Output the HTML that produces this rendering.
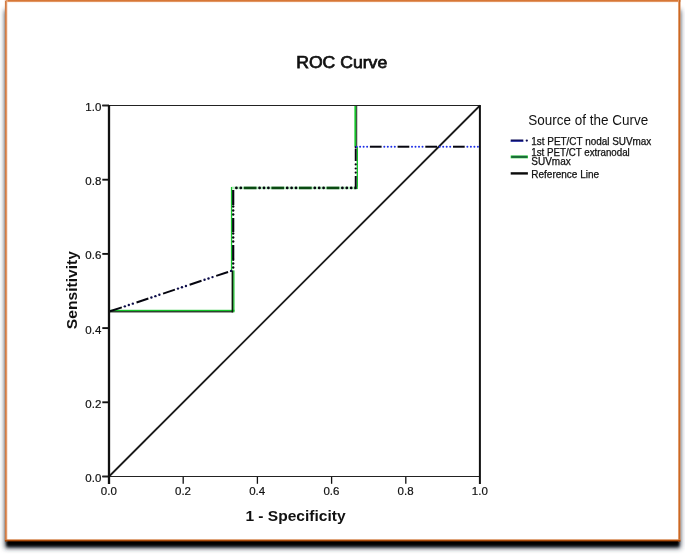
<!DOCTYPE html>
<html lang="en"><head><meta charset="utf-8"><title>ROC Curve</title>
<style>
html,body{margin:0;padding:0;background:#fff;}
body{width:685px;height:554px;position:relative;overflow:hidden;font-family:"Liberation Sans", Arial, Helvetica, sans-serif;}
#frame{position:absolute;left:5px;top:0;width:671px;height:537px;border:2px solid #d5722f;border-radius:2px;background:#fff;
box-shadow:0 6px 3px -1px rgba(0,0,0,1), 0 5px 4px 0 rgba(70,80,95,.55);}
</style></head><body>
<svg width="685" height="554" viewBox="0 0 685 554" style="position:absolute;left:0;top:0">
<defs>
<filter id="soft" x="-5%" y="-5%" width="110%" height="110%"><feGaussianBlur stdDeviation="2.5"/></filter>
<filter id="hard" x="-5%" y="-50%" width="110%" height="200%"><feGaussianBlur stdDeviation="0.9 1.8"/></filter>
<linearGradient id="gl" x1="0" x2="1" y1="0" y2="0"><stop offset="0" stop-color="#c5733b"/><stop offset="0.5" stop-color="#d98550"/><stop offset="1" stop-color="#f6c3a0"/></linearGradient>
<linearGradient id="gr" x1="0" x2="1" y1="0" y2="0"><stop offset="0" stop-color="#fbe3d2"/><stop offset="0.35" stop-color="#cf6c28"/><stop offset="1" stop-color="#c4621e"/></linearGradient>
<linearGradient id="gt" x1="0" x2="0" y1="0" y2="1"><stop offset="0" stop-color="#d36f2c"/><stop offset="0.55" stop-color="#dc8448"/><stop offset="1" stop-color="#fbe6d8"/></linearGradient>
<linearGradient id="gb" x1="0" x2="0" y1="0" y2="1"><stop offset="0" stop-color="#d98a52"/><stop offset="0.45" stop-color="#b3500c"/><stop offset="1" stop-color="#7a3000"/></linearGradient>
</defs>
<rect x="5" y="10" width="675.4" height="538" fill="#2a3442" filter="url(#soft)"/>
<rect x="6.7" y="520" width="672.3" height="26.3" fill="#000" filter="url(#hard)"/>
<rect x="5" y="0" width="675.4" height="541" fill="#fff"/>
<rect x="5" y="0" width="675.4" height="2.4" fill="url(#gt)"/>
<rect x="4.9" y="0" width="2.5" height="541.3" fill="url(#gl)"/>
<rect x="678.0" y="0" width="2.4" height="541.3" fill="url(#gr)"/>
<rect x="4.9" y="0" width="1.1" height="1" fill="#fff" opacity="0.55"/>
<rect x="4.9" y="539.3" width="675.5" height="2.2" fill="url(#gb)"/>
<g font-family='"Liberation Sans", Arial, Helvetica, sans-serif' fill="#111">
<text x="341.7" y="68.3" font-size="17" text-anchor="middle" textLength="91" lengthAdjust="spacingAndGlyphs" stroke="#111" stroke-width="0.75">ROC Curve</text>
<text x="295.5" y="521.0" font-size="15.4" font-weight="bold" text-anchor="middle" textLength="100.2" lengthAdjust="spacingAndGlyphs">1 - Specificity</text>
<text transform="translate(77.0 290.1) rotate(-90)" font-size="15.4" font-weight="bold" text-anchor="middle" textLength="78.2" lengthAdjust="spacingAndGlyphs">Sensitivity</text>
<text x="101.3" y="482.0" font-size="11.5" text-anchor="end" fill="#111" stroke="#111" stroke-width="0.2">0.0</text>
<text x="108.8" y="495.4" font-size="11.5" text-anchor="middle" fill="#111" stroke="#111" stroke-width="0.2">0.0</text>
<text x="101.3" y="407.8" font-size="11.5" text-anchor="end" fill="#111" stroke="#111" stroke-width="0.2">0.2</text>
<text x="183.0" y="495.4" font-size="11.5" text-anchor="middle" fill="#111" stroke="#111" stroke-width="0.2">0.2</text>
<text x="101.3" y="333.6" font-size="11.5" text-anchor="end" fill="#111" stroke="#111" stroke-width="0.2">0.4</text>
<text x="257.2" y="495.4" font-size="11.5" text-anchor="middle" fill="#111" stroke="#111" stroke-width="0.2">0.4</text>
<text x="101.3" y="259.4" font-size="11.5" text-anchor="end" fill="#111" stroke="#111" stroke-width="0.2">0.6</text>
<text x="331.4" y="495.4" font-size="11.5" text-anchor="middle" fill="#111" stroke="#111" stroke-width="0.2">0.6</text>
<text x="101.3" y="185.2" font-size="11.5" text-anchor="end" fill="#111" stroke="#111" stroke-width="0.2">0.8</text>
<text x="405.6" y="495.4" font-size="11.5" text-anchor="middle" fill="#111" stroke="#111" stroke-width="0.2">0.8</text>
<text x="101.3" y="111.0" font-size="11.5" text-anchor="end" fill="#111" stroke="#111" stroke-width="0.2">1.0</text>
<text x="479.8" y="495.4" font-size="11.5" text-anchor="middle" fill="#111" stroke="#111" stroke-width="0.2">1.0</text>
</g>
<g stroke="#111" fill="none">
<line x1="102.3" x2="109.0" y1="476.5" y2="476.5" stroke-width="1.9"/>
<line x1="102.3" x2="109.0" y1="402.3" y2="402.3" stroke-width="1.9"/>
<line x1="183.2" x2="183.2" y1="476.5" y2="483.8" stroke-width="1.3"/>
<line x1="102.3" x2="109.0" y1="328.1" y2="328.1" stroke-width="1.9"/>
<line x1="257.4" x2="257.4" y1="476.5" y2="483.8" stroke-width="1.3"/>
<line x1="102.3" x2="109.0" y1="253.9" y2="253.9" stroke-width="1.9"/>
<line x1="331.6" x2="331.6" y1="476.5" y2="483.8" stroke-width="1.3"/>
<line x1="102.3" x2="109.0" y1="179.7" y2="179.7" stroke-width="1.9"/>
<line x1="405.8" x2="405.8" y1="476.5" y2="483.8" stroke-width="1.3"/>
<line x1="102.3" x2="109.0" y1="105.5" y2="105.5" stroke-width="1.9"/>
<line x1="109.0" y1="476.5" x2="480.0" y2="105.5" stroke-width="1.8" stroke="#1a1a1a"/>
</g>
<rect x="109.00" y="309.80" width="125.47" height="1.50" fill="#14c42a"/>
<rect x="109.00" y="311.20" width="124.17" height="1.20" fill="#0c1a0c"/>
<rect x="233.20" y="270.39" width="1.30" height="41.91" fill="#14c42a"/>
<rect x="231.60" y="270.39" width="1.60" height="42.01" fill="#0c1a0c"/>
<rect x="354.40" y="105.50" width="1.90" height="41.22" fill="#14c42a"/>
<rect x="356.30" y="105.50" width="0.90" height="41.22" fill="#0c1a0c"/>
<rect x="230.90" y="186.94" width="1.30" height="83.45" fill="#14c42a"/>
<rect x="356.60" y="146.72" width="1.40" height="42.22" fill="#14c42a"/>
<rect x="232.07" y="186.64" width="125.66" height="2.60" fill="#7be08a" opacity="0.55"/>
<line x1="109.95" y1="311.29" x2="121.81" y2="307.34" stroke="#05050f" stroke-width="2.0"/>
<line x1="136.51" y1="302.44" x2="148.37" y2="298.49" stroke="#05050f" stroke-width="2.0"/>
<line x1="163.08" y1="293.59" x2="174.93" y2="289.63" stroke="#05050f" stroke-width="2.0"/>
<line x1="189.64" y1="284.73" x2="201.50" y2="280.78" stroke="#05050f" stroke-width="2.0"/>
<line x1="216.20" y1="275.88" x2="228.06" y2="271.93" stroke="#05050f" stroke-width="2.0"/>
<circle cx="124.84" cy="306.33" r="1.20" fill="#0c0c48"/>
<circle cx="128.83" cy="305.00" r="1.20" fill="#0c0c48"/>
<circle cx="132.81" cy="303.67" r="1.20" fill="#0c0c48"/>
<circle cx="151.41" cy="297.48" r="1.20" fill="#0c0c48"/>
<circle cx="155.39" cy="296.15" r="1.20" fill="#0c0c48"/>
<circle cx="159.38" cy="294.82" r="1.20" fill="#0c0c48"/>
<circle cx="177.97" cy="288.62" r="1.20" fill="#0c0c48"/>
<circle cx="181.95" cy="287.29" r="1.20" fill="#0c0c48"/>
<circle cx="185.94" cy="285.97" r="1.20" fill="#0c0c48"/>
<circle cx="204.53" cy="279.77" r="1.20" fill="#0c0c48"/>
<circle cx="208.52" cy="278.44" r="1.20" fill="#0c0c48"/>
<circle cx="212.50" cy="277.11" r="1.20" fill="#0c0c48"/>
<circle cx="231.10" cy="270.91" r="1.20" fill="#0c0c48"/>
<line x1="233.20" y1="259.00" x2="233.20" y2="245.00" stroke="#05050f" stroke-width="2.2"/>
<line x1="233.20" y1="232.00" x2="233.20" y2="218.00" stroke="#05050f" stroke-width="2.2"/>
<line x1="233.20" y1="205.00" x2="233.20" y2="190.00" stroke="#05050f" stroke-width="2.2"/>
<circle cx="233.20" cy="267.50" r="1.20" fill="#05050f"/>
<circle cx="233.20" cy="263.50" r="1.20" fill="#05050f"/>
<circle cx="233.20" cy="259.80" r="1.20" fill="#05050f"/>
<circle cx="233.20" cy="241.50" r="1.20" fill="#05050f"/>
<circle cx="233.20" cy="237.50" r="1.20" fill="#05050f"/>
<circle cx="233.20" cy="233.50" r="1.20" fill="#05050f"/>
<circle cx="233.20" cy="214.50" r="1.20" fill="#05050f"/>
<circle cx="233.20" cy="210.50" r="1.20" fill="#05050f"/>
<circle cx="233.20" cy="206.50" r="1.20" fill="#05050f"/>
<line x1="243.80" y1="187.94" x2="256.50" y2="187.94" stroke="#0a4a12" stroke-width="2.6"/>
<line x1="271.40" y1="187.94" x2="284.10" y2="187.94" stroke="#0a4a12" stroke-width="2.6"/>
<line x1="299.00" y1="187.94" x2="311.70" y2="187.94" stroke="#0a4a12" stroke-width="2.6"/>
<line x1="326.60" y1="187.94" x2="339.30" y2="187.94" stroke="#0a4a12" stroke-width="2.6"/>
<line x1="354.20" y1="187.94" x2="356.33" y2="187.94" stroke="#0a4a12" stroke-width="2.6"/>
<circle cx="236.40" cy="187.94" r="1.40" fill="#05050f"/>
<circle cx="240.80" cy="187.94" r="1.40" fill="#05050f"/>
<circle cx="259.60" cy="187.94" r="1.40" fill="#05050f"/>
<circle cx="264.00" cy="187.94" r="1.40" fill="#05050f"/>
<circle cx="268.40" cy="187.94" r="1.40" fill="#05050f"/>
<circle cx="287.20" cy="187.94" r="1.40" fill="#05050f"/>
<circle cx="291.60" cy="187.94" r="1.40" fill="#05050f"/>
<circle cx="296.00" cy="187.94" r="1.40" fill="#05050f"/>
<circle cx="314.80" cy="187.94" r="1.40" fill="#05050f"/>
<circle cx="319.20" cy="187.94" r="1.40" fill="#05050f"/>
<circle cx="323.60" cy="187.94" r="1.40" fill="#05050f"/>
<circle cx="342.40" cy="187.94" r="1.40" fill="#05050f"/>
<circle cx="346.80" cy="187.94" r="1.40" fill="#05050f"/>
<circle cx="351.20" cy="187.94" r="1.40" fill="#05050f"/>
<line x1="355.70" y1="188.94" x2="355.70" y2="176.00" stroke="#05050f" stroke-width="1.9"/>
<line x1="355.70" y1="161.00" x2="355.70" y2="148.60" stroke="#05050f" stroke-width="1.9"/>
<circle cx="355.70" cy="172.60" r="1.10" fill="#05050f"/>
<circle cx="355.70" cy="168.50" r="1.10" fill="#05050f"/>
<circle cx="355.70" cy="164.40" r="1.10" fill="#05050f"/>
<circle cx="355.70" cy="147.20" r="1.10" fill="#05050f"/>
<line x1="369.90" y1="146.72" x2="381.60" y2="146.72" stroke="#05050f" stroke-width="2.0"/>
<line x1="397.60" y1="146.72" x2="409.30" y2="146.72" stroke="#05050f" stroke-width="2.0"/>
<line x1="425.30" y1="146.72" x2="437.00" y2="146.72" stroke="#05050f" stroke-width="2.0"/>
<line x1="453.00" y1="146.72" x2="464.70" y2="146.72" stroke="#05050f" stroke-width="2.0"/>
<circle cx="356.60" cy="146.72" r="1.00" fill="#1c2ee6"/>
<circle cx="360.10" cy="146.72" r="1.00" fill="#1c2ee6"/>
<circle cx="363.60" cy="146.72" r="1.00" fill="#1c2ee6"/>
<circle cx="367.10" cy="146.72" r="1.00" fill="#1c2ee6"/>
<circle cx="384.30" cy="146.72" r="1.00" fill="#1c2ee6"/>
<circle cx="387.80" cy="146.72" r="1.00" fill="#1c2ee6"/>
<circle cx="391.30" cy="146.72" r="1.00" fill="#1c2ee6"/>
<circle cx="394.80" cy="146.72" r="1.00" fill="#1c2ee6"/>
<circle cx="412.00" cy="146.72" r="1.00" fill="#1c2ee6"/>
<circle cx="415.50" cy="146.72" r="1.00" fill="#1c2ee6"/>
<circle cx="419.00" cy="146.72" r="1.00" fill="#1c2ee6"/>
<circle cx="422.50" cy="146.72" r="1.00" fill="#1c2ee6"/>
<circle cx="439.70" cy="146.72" r="1.00" fill="#1c2ee6"/>
<circle cx="443.20" cy="146.72" r="1.00" fill="#1c2ee6"/>
<circle cx="446.70" cy="146.72" r="1.00" fill="#1c2ee6"/>
<circle cx="450.20" cy="146.72" r="1.00" fill="#1c2ee6"/>
<circle cx="467.40" cy="146.72" r="1.00" fill="#1c2ee6"/>
<circle cx="470.90" cy="146.72" r="1.00" fill="#1c2ee6"/>
<circle cx="474.40" cy="146.72" r="1.00" fill="#1c2ee6"/>
<circle cx="477.90" cy="146.72" r="1.00" fill="#1c2ee6"/>
<g stroke="#111" fill="none">
<line x1="102.3" x2="480.0" y1="105.5" y2="105.5" stroke-width="1.2" stroke="#222"/>
<line x1="102.3" x2="480.0" y1="476.5" y2="476.5" stroke-width="1.2" stroke="#222"/>
<line x1="109.0" x2="109.0" y1="104.9" y2="483.9" stroke-width="2.3"/>
<line x1="479.9" x2="479.9" y1="104.9" y2="483.9" stroke-width="2.0"/>
</g>
<g font-family='"Liberation Sans", Arial, Helvetica, sans-serif' fill="#111">
<text x="588.2" y="125.2" font-size="14.4" text-anchor="middle" textLength="120" lengthAdjust="spacingAndGlyphs">Source of the Curve</text>
<g font-size="10" stroke="#111" stroke-width="0.25">
<text x="531.3" y="144.8" textLength="120" lengthAdjust="spacingAndGlyphs">1st PET/CT nodal SUVmax</text>
<text x="531.3" y="156.4" textLength="98.5" lengthAdjust="spacingAndGlyphs">1st PET/CT extranodal</text>
<text x="531.3" y="165.4">SUVmax</text>
<text x="531.3" y="178.0">Reference Line</text>
</g></g>
<line x1="510.7" x2="523.3" y1="140.6" y2="140.6" stroke="#0b0b55" stroke-width="2.2"/>
<line x1="510.7" x2="523.3" y1="141.3" y2="141.3" stroke="#2434d8" stroke-width="0.8" opacity="0.7"/>
<circle cx="526.8" cy="140.6" r="1.15" fill="#0b0b55"/>
<line x1="510.7" x2="527.9" y1="156.9" y2="156.9" stroke="#14c42a" stroke-width="2.8"/>
<line x1="511.4" x2="527.2" y1="156.9" y2="156.9" stroke="#1c6a3a" stroke-width="2.0"/>
<line x1="510.7" x2="527.9" y1="173.4" y2="173.4" stroke="#0a0a0a" stroke-width="2.4"/>
</svg>
</body></html>
